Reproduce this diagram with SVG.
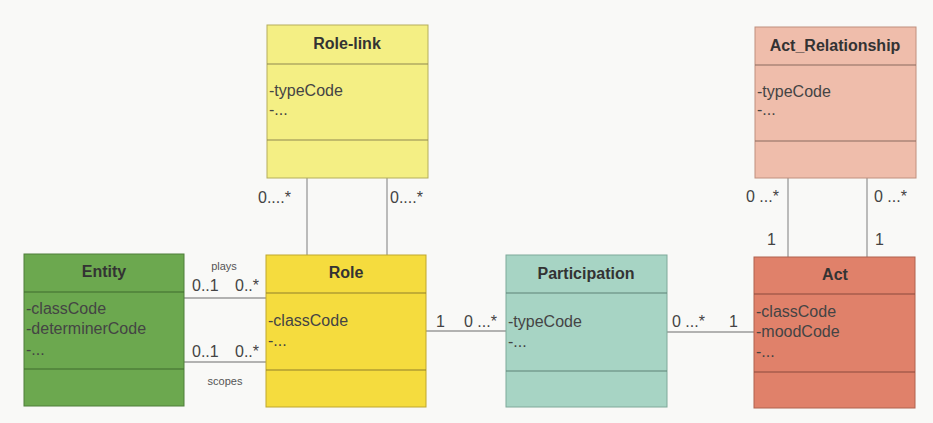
<svg xmlns="http://www.w3.org/2000/svg" width="933" height="423" viewBox="0 0 933 423">
<style>
.bg{fill:#f9f9f7}
.title{font-family:"Liberation Sans",Arial,sans-serif;font-size:16px;font-weight:bold;fill:#333;text-anchor:middle}
.attr{font-family:"Liberation Sans",Arial,sans-serif;font-size:16px;fill:#444}
.mult{font-family:"Liberation Sans",Arial,sans-serif;font-size:16px;fill:#444}
.small{font-family:"Liberation Sans",Arial,sans-serif;font-size:11px;fill:#555;text-anchor:middle}
.conn{stroke:#9a9a9a;stroke-width:1.3;fill:none}
.rolelink{fill:#f4ef84;stroke:#b5ae5c}
.rolelink-d{stroke:#8d8750}
.actrel{fill:#efbdab;stroke:#c0907e}
.actrel-d{stroke:#8a6a5e}
.entity{fill:#6ca84f;stroke:#4f7f3a}
.entity-d{stroke:#3f6a2e}
.role{fill:#f5dc3e;stroke:#bfa72f}
.role-d{stroke:#8f7e2a}
.part{fill:#a7d4c4;stroke:#7fa99a}
.part-d{stroke:#5f8276}
.act{fill:#e0816a;stroke:#b0624f}
.act-d{stroke:#8a4a3c}
.div{stroke-width:1.2}
</style>
<rect class="bg" x="0" y="0" width="933" height="423"/>

<g id="connectors">
  <line class="conn" x1="307" y1="178" x2="307" y2="255"/>
  <line class="conn" x1="387" y1="178" x2="387" y2="255"/>
  <line class="conn" x1="788" y1="178" x2="788" y2="257"/>
  <line class="conn" x1="867" y1="178" x2="867" y2="257"/>
  <line class="conn" x1="184" y1="298" x2="266" y2="298"/>
  <line class="conn" x1="184" y1="362" x2="266" y2="362"/>
  <line class="conn" x1="426" y1="331" x2="506" y2="331"/>
  <line class="conn" x1="667" y1="332" x2="754" y2="332"/>
  <text class="mult" x="258" y="203">0....*</text>
  <text class="mult" x="390" y="203">0....*</text>
  <text class="mult" x="746" y="202">0 ...*</text>
  <text class="mult" x="874" y="202">0 ...*</text>
  <text class="mult" x="767" y="245">1</text>
  <text class="mult" x="875" y="245">1</text>
  <text class="small" x="224" y="270">plays</text>
  <text class="mult" x="192" y="291">0..1</text>
  <text class="mult" x="235" y="291">0..*</text>
  <text class="mult" x="192" y="357">0..1</text>
  <text class="mult" x="235" y="357">0..*</text>
  <text class="small" x="225" y="385">scopes</text>
  <text class="mult" x="436" y="327">1</text>
  <text class="mult" x="464" y="327">0 ...*</text>
  <text class="mult" x="672" y="327">0 ...*</text>
  <text class="mult" x="729" y="327">1</text>
</g>

<g id="role-link">
  <rect class="rolelink" x="267" y="25" width="161" height="153"/>
  <line class="rolelink-d div" x1="267" y1="64" x2="428" y2="64"/>
  <line class="rolelink-d div" x1="267" y1="140" x2="428" y2="140"/>
  <text class="title" x="347" y="49">Role-link</text>
  <text class="attr" x="269" y="96">-typeCode</text>
  <text class="attr" x="269" y="115">-...</text>
</g>

<g id="act-relationship">
  <rect class="actrel" x="755" y="27" width="161" height="151"/>
  <line class="actrel-d div" x1="755" y1="65" x2="916" y2="65"/>
  <line class="actrel-d div" x1="755" y1="141" x2="916" y2="141"/>
  <text class="title" x="835" y="51">Act_Relationship</text>
  <text class="attr" x="757" y="97">-typeCode</text>
  <text class="attr" x="757" y="115">-...</text>
</g>

<g id="entity">
  <rect class="entity" x="24" y="254" width="160" height="152"/>
  <line class="entity-d div" x1="24" y1="292" x2="184" y2="292"/>
  <line class="entity-d div" x1="24" y1="369" x2="184" y2="369"/>
  <text class="title" x="104" y="277">Entity</text>
  <text class="attr" x="26" y="314">-classCode</text>
  <text class="attr" x="26" y="334">-determinerCode</text>
  <text class="attr" x="26" y="355">-...</text>
</g>

<g id="role">
  <rect class="role" x="266" y="255" width="160" height="152"/>
  <line class="role-d div" x1="266" y1="293" x2="426" y2="293"/>
  <line class="role-d div" x1="266" y1="370" x2="426" y2="370"/>
  <text class="title" x="346" y="278">Role</text>
  <text class="attr" x="268" y="326">-classCode</text>
  <text class="attr" x="268" y="346">-...</text>
</g>

<g id="participation">
  <rect class="part" x="506" y="255" width="161" height="152"/>
  <line class="part-d div" x1="506" y1="293" x2="667" y2="293"/>
  <line class="part-d div" x1="506" y1="371" x2="667" y2="371"/>
  <text class="title" x="586" y="279">Participation</text>
  <text class="attr" x="508" y="327">-typeCode</text>
  <text class="attr" x="508" y="347">-...</text>
</g>

<g id="act">
  <rect class="act" x="754" y="257" width="161" height="151"/>
  <line class="act-d div" x1="754" y1="294" x2="915" y2="294"/>
  <line class="act-d div" x1="754" y1="372" x2="915" y2="372"/>
  <text class="title" x="835" y="280">Act</text>
  <text class="attr" x="756" y="317">-classCode</text>
  <text class="attr" x="756" y="337">-moodCode</text>
  <text class="attr" x="756" y="357">-...</text>
</g>
</svg>
